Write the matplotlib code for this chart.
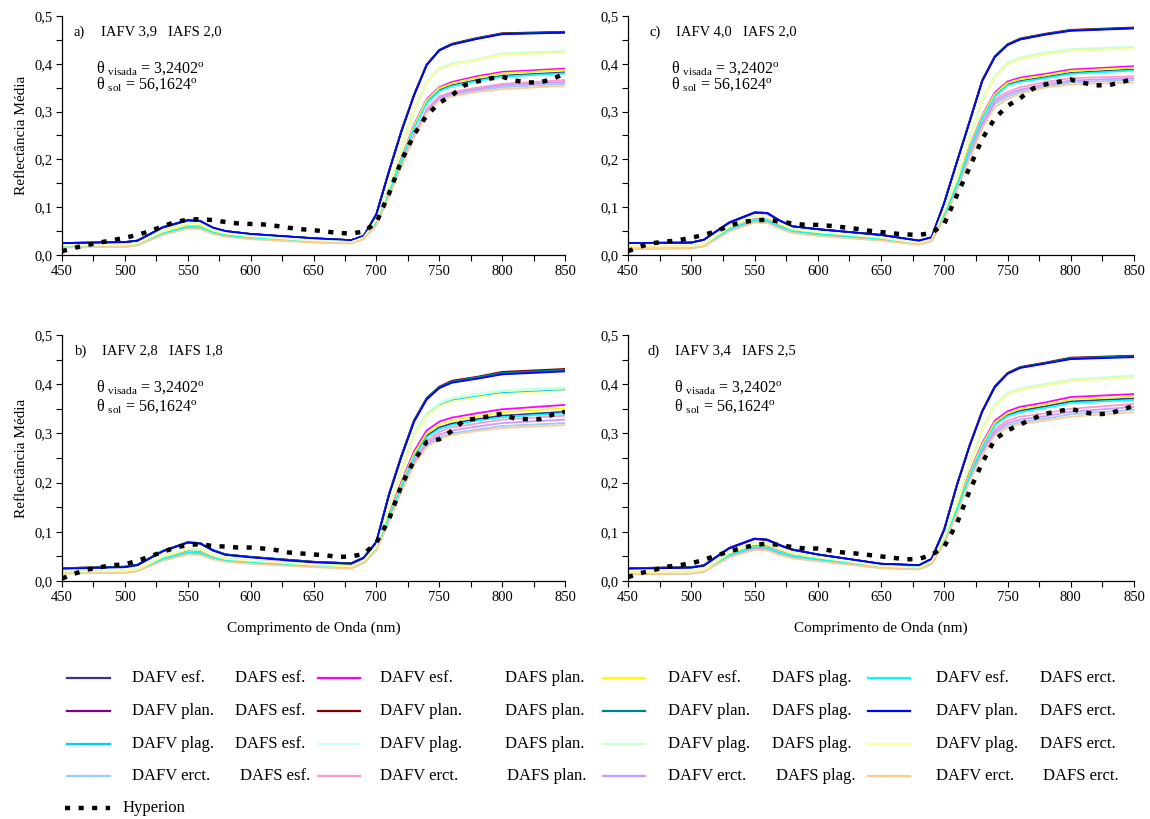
import matplotlib
matplotlib.use("Agg")
import matplotlib.pyplot as plt
from matplotlib.lines import Line2D
from matplotlib.ticker import MultipleLocator, FuncFormatter

plt.rcParams['font.family'] = ['Liberation Serif', 'DejaVu Serif']
plt.rcParams['mathtext.fontset'] = 'custom'
plt.rcParams['mathtext.rm'] = 'Liberation Serif'
plt.rcParams['mathtext.it'] = 'Liberation Serif:italic'

# ---------------------------------------------------------------- data
wavelength = [450, 500, 510, 530, 550, 560, 570, 580, 600, 650, 680, 690,
              700, 710, 720, 730, 740, 750, 760, 780, 800, 850]
hyperion_wavelength = [450, 460, 470, 480, 490, 500, 510, 520, 530, 540, 550,
                       560, 570, 580, 590, 600, 610, 620, 630, 640, 650, 660,
                       670, 680, 690, 700, 710, 720, 730, 740, 750, 760, 770,
                       780, 790, 800, 810, 820, 830, 840, 850]

dafv_types = ['esf.', 'plan.', 'plag.', 'erct.']
dafs_types = ['esf.', 'plan.', 'plag.', 'erct.']

# series order: DAFS type (outer) x DAFV type (inner)
series_colors = ['#333399', '#800080', '#00CCFF', '#99CCFF',
                 '#FF00FF', '#800000', '#CCFFFF', '#FF99CC',
                 '#FFFF00', '#008080', '#CCFFCC', '#CC99FF',
                 '#00FFFF', '#0000FF', '#FFFF99', '#FFCC99']

panel_tags = ['a)', 'b)', 'c)', 'd)']
iafv = ['IAFV 3,9', 'IAFV 2,8', 'IAFV 4,0', 'IAFV 3,4']
iafs = ['IAFS 2,0', 'IAFS 1,8', 'IAFS 2,0', 'IAFS 2,5']

refl_a = [
    [.019, .020, .023, .046, .060, .059, .048, .042, .037, .030, .028, .037, .070, .132, .199, .268, .320, .345, .355, .366, .375, .382],
    [.025, .027, .030, .057, .072, .071, .057, .050, .044, .035, .031, .040, .085, .175, .260, .335, .398, .428, .441, .453, .463, .466],
    [.020, .021, .024, .048, .064, .063, .051, .045, .039, .030, .027, .037, .074, .140, .224, .304, .361, .389, .399, .408, .420, .425],
    [.016, .017, .020, .043, .056, .055, .045, .039, .034, .027, .025, .034, .064, .123, .187, .248, .300, .326, .335, .344, .351, .358],
    [.019, .020, .023, .047, .062, .061, .050, .044, .039, .032, .030, .038, .072, .135, .203, .273, .326, .351, .362, .374, .383, .390],
    [.025, .027, .030, .058, .073, .071, .057, .050, .044, .035, .031, .040, .086, .176, .261, .336, .399, .429, .442, .454, .464, .467],
    [.021, .022, .025, .050, .066, .065, .053, .046, .040, .031, .028, .038, .076, .142, .226, .306, .363, .391, .401, .410, .422, .427],
    [.017, .018, .021, .044, .058, .057, .047, .041, .036, .028, .026, .035, .066, .125, .190, .252, .305, .332, .341, .350, .358, .366],
    [.019, .020, .023, .047, .061, .060, .049, .043, .038, .031, .029, .037, .071, .134, .201, .271, .324, .349, .359, .371, .380, .387],
    [.025, .027, .030, .058, .073, .071, .057, .050, .044, .035, .031, .040, .086, .175, .260, .335, .398, .429, .441, .453, .463, .466],
    [.021, .022, .025, .051, .067, .066, .054, .046, .040, .031, .028, .038, .075, .141, .225, .305, .362, .390, .400, .409, .421, .426],
    [.017, .018, .021, .043, .057, .056, .046, .040, .035, .028, .026, .035, .065, .124, .188, .250, .302, .329, .338, .347, .355, .362],
    [.018, .019, .022, .045, .059, .058, .047, .041, .036, .029, .027, .036, .069, .131, .198, .266, .318, .343, .353, .364, .373, .380],
    [.025, .027, .030, .058, .073, .071, .057, .050, .044, .035, .031, .040, .085, .174, .259, .334, .397, .428, .440, .452, .462, .465],
    [.020, .021, .024, .049, .065, .064, .052, .045, .039, .030, .027, .037, .074, .139, .223, .303, .360, .388, .398, .407, .419, .423],
    [.016, .017, .020, .042, .055, .054, .044, .038, .033, .026, .024, .033, .063, .121, .185, .246, .297, .323, .332, .341, .347, .354],
]

refl_b = [
    [.018, .020, .023, .045, .059, .058, .048, .042, .039, .033, .031, .041, .067, .130, .195, .255, .295, .312, .320, .329, .336, .344],
    [.026, .029, .033, .061, .078, .076, .062, .054, .049, .039, .036, .047, .079, .175, .254, .325, .370, .393, .404, .413, .422, .428],
    [.018, .020, .023, .048, .063, .062, .051, .045, .041, .033, .029, .041, .069, .147, .222, .296, .337, .357, .367, .375, .382, .388],
    [.016, .017, .020, .042, .055, .054, .045, .040, .036, .029, .026, .037, .063, .121, .184, .238, .275, .292, .300, .308, .315, .321],
    [.018, .020, .023, .046, .060, .059, .049, .044, .041, .037, .036, .044, .070, .135, .202, .264, .306, .324, .332, .341, .349, .358],
    [.026, .029, .033, .061, .079, .077, .063, .054, .049, .039, .036, .048, .080, .177, .256, .327, .372, .395, .407, .415, .425, .431],
    [.019, .021, .024, .050, .065, .064, .053, .046, .042, .034, .030, .042, .071, .150, .226, .301, .342, .362, .373, .381, .388, .394],
    [.016, .018, .021, .043, .056, .055, .046, .041, .038, .031, .028, .039, .065, .125, .190, .246, .284, .303, .312, .320, .328, .336],
    [.018, .020, .023, .046, .059, .058, .048, .043, .040, .035, .033, .042, .068, .132, .198, .259, .300, .318, .326, .335, .343, .351],
    [.026, .029, .033, .061, .079, .077, .063, .054, .049, .039, .036, .048, .080, .176, .255, .326, .371, .394, .405, .414, .423, .429],
    [.019, .021, .024, .050, .066, .065, .054, .046, .042, .034, .030, .042, .070, .149, .225, .299, .340, .360, .371, .379, .386, .392],
    [.016, .018, .021, .043, .056, .055, .046, .041, .037, .030, .027, .038, .064, .123, .187, .242, .279, .297, .306, .314, .321, .328],
    [.017, .019, .022, .045, .058, .057, .047, .042, .038, .032, .029, .040, .066, .129, .193, .253, .292, .309, .317, .326, .333, .341],
    [.025, .028, .032, .060, .078, .076, .062, .053, .048, .038, .035, .047, .079, .174, .253, .324, .369, .392, .403, .411, .420, .426],
    [.018, .020, .023, .049, .064, .063, .052, .045, .041, .033, .029, .041, .069, .146, .221, .295, .335, .355, .365, .373, .380, .386],
    [.015, .017, .020, .041, .054, .053, .044, .039, .035, .028, .025, .036, .062, .120, .182, .236, .272, .289, .297, .305, .311, .317],
]

refl_c = [
    [.016, .017, .021, .054, .073, .072, .060, .051, .045, .035, .025, .031, .084, .147, .222, .287, .334, .357, .364, .372, .381, .388],
    [.025, .026, .032, .067, .088, .087, .071, .060, .054, .042, .030, .037, .109, .195, .279, .364, .415, .440, .451, .462, .470, .475],
    [.017, .018, .022, .058, .078, .077, .064, .054, .048, .036, .025, .032, .093, .160, .243, .323, .373, .400, .411, .421, .428, .433],
    [.013, .014, .018, .050, .069, .068, .056, .047, .041, .031, .022, .029, .078, .136, .204, .268, .316, .331, .342, .353, .361, .366],
    [.016, .017, .021, .055, .075, .074, .061, .052, .046, .036, .026, .032, .086, .150, .226, .292, .340, .363, .371, .379, .388, .395],
    [.025, .026, .032, .068, .089, .088, .072, .060, .054, .042, .030, .037, .110, .196, .280, .366, .416, .441, .453, .463, .471, .476],
    [.018, .019, .023, .060, .081, .080, .066, .055, .049, .037, .026, .033, .095, .162, .246, .326, .376, .403, .414, .424, .431, .436],
    [.014, .015, .019, .052, .071, .070, .058, .049, .043, .033, .023, .030, .080, .140, .210, .276, .326, .341, .351, .362, .370, .374],
    [.016, .017, .021, .055, .074, .073, .060, .051, .045, .035, .025, .032, .085, .149, .224, .290, .337, .360, .368, .376, .385, .392],
    [.025, .026, .032, .068, .089, .088, .072, .060, .054, .042, .030, .037, .110, .195, .279, .365, .415, .440, .452, .462, .470, .475],
    [.018, .019, .023, .061, .082, .081, .067, .055, .049, .037, .026, .033, .094, .161, .245, .325, .375, .402, .413, .423, .430, .435],
    [.014, .015, .019, .051, .070, .069, .057, .048, .042, .032, .023, .030, .079, .138, .207, .272, .321, .336, .346, .357, .365, .370],
    [.015, .016, .020, .054, .073, .072, .059, .050, .044, .034, .024, .031, .083, .146, .221, .286, .332, .355, .362, .370, .379, .386],
    [.025, .026, .032, .068, .089, .088, .072, .060, .054, .042, .030, .037, .109, .194, .278, .364, .414, .439, .451, .461, .469, .474],
    [.017, .018, .022, .059, .079, .078, .065, .054, .048, .036, .025, .032, .093, .159, .242, .322, .372, .399, .410, .420, .427, .432],
    [.013, .014, .018, .049, .068, .067, .055, .046, .040, .030, .022, .029, .077, .134, .201, .264, .309, .326, .338, .350, .357, .361],
]

refl_d = [
    [.017, .018, .022, .053, .069, .068, .058, .051, .044, .030, .028, .038, .083, .147, .215, .274, .319, .337, .346, .355, .365, .371],
    [.026, .028, .032, .066, .085, .083, .072, .063, .054, .035, .032, .045, .105, .195, .275, .345, .395, .422, .434, .443, .452, .457],
    [.017, .018, .022, .056, .074, .073, .063, .056, .048, .030, .027, .039, .088, .158, .237, .307, .357, .379, .389, .398, .407, .415],
    [.014, .015, .019, .049, .064, .063, .054, .047, .041, .027, .024, .035, .078, .137, .205, .259, .300, .316, .323, .330, .339, .348],
    [.017, .018, .022, .054, .071, .070, .060, .053, .046, .032, .031, .039, .085, .150, .220, .280, .326, .345, .354, .363, .374, .380],
    [.026, .028, .032, .067, .086, .084, .073, .064, .054, .035, .032, .045, .106, .196, .276, .346, .396, .423, .435, .444, .454, .458],
    [.018, .019, .023, .058, .077, .076, .065, .057, .049, .031, .028, .040, .090, .160, .240, .310, .360, .382, .392, .401, .410, .418],
    [.015, .016, .020, .050, .066, .065, .056, .049, .043, .028, .025, .036, .080, .140, .210, .266, .309, .326, .334, .341, .350, .360],
    [.017, .018, .022, .054, .070, .069, .059, .052, .045, .031, .029, .038, .084, .148, .217, .277, .322, .341, .350, .359, .369, .375],
    [.026, .028, .032, .067, .086, .084, .073, .064, .054, .035, .032, .045, .105, .195, .275, .345, .395, .422, .434, .443, .453, .457],
    [.018, .019, .023, .059, .078, .077, .066, .057, .049, .031, .028, .040, .089, .159, .239, .309, .359, .381, .391, .400, .409, .417],
    [.015, .016, .020, .049, .065, .064, .055, .048, .042, .027, .024, .035, .079, .138, .207, .262, .304, .321, .328, .335, .344, .354],
    [.016, .017, .021, .053, .069, .068, .058, .051, .044, .030, .027, .037, .082, .146, .213, .272, .317, .335, .343, .352, .362, .368],
    [.025, .027, .031, .067, .086, .084, .073, .064, .054, .035, .032, .045, .104, .194, .274, .344, .394, .421, .433, .442, .451, .455],
    [.017, .018, .022, .057, .075, .074, .064, .056, .048, .030, .027, .039, .088, .157, .236, .306, .356, .378, .388, .397, .406, .414],
    [.014, .015, .019, .048, .063, .062, .053, .046, .040, .026, .023, .034, .077, .135, .202, .256, .296, .312, .319, .326, .334, .343],
]

hyperion_a = [.008, .015, .021, .026, .031, .036, .042, .050, .060, .069, .074,
              .075, .073, .069, .066, .065, .064, .061, .057, .054, .052, .049,
              .046, .045, .049, .068, .128, .198, .252, .292, .318, .334, .355,
              .363, .369, .373, .365, .361, .361, .368, .380]
hyperion_b = [.005, .015, .023, .028, .032, .034, .041, .050, .059, .068, .073,
              .075, .071, .070, .068, .068, .066, .063, .058, .056, .054, .052,
              .049, .050, .055, .078, .125, .195, .245, .283, .288, .305, .327,
              .330, .335, .340, .330, .329, .329, .338, .344]
hyperion_c = [.008, .018, .025, .028, .031, .036, .042, .050, .061, .069, .072,
              .074, .070, .066, .063, .063, .061, .058, .055, .051, .048, .045,
              .043, .042, .046, .065, .125, .183, .243, .286, .312, .328, .348,
              .357, .362, .367, .360, .355, .355, .362, .368]
hyperion_d = [.008, .016, .022, .029, .032, .036, .043, .052, .060, .067, .073,
              .076, .073, .069, .066, .066, .062, .058, .056, .053, .050, .047,
              .044, .045, .053, .070, .117, .183, .240, .288, .306, .318, .330,
              .340, .345, .350, .343, .339, .340, .348, .356]

panel_refl = [refl_a, refl_b, refl_c, refl_d]
panel_hyperion = [hyperion_a, hyperion_b, hyperion_c, hyperion_d]

# ---------------------------------------------------------------- layout
W, H = 1150, 819
fig = plt.figure(figsize=(W / 100, H / 100), dpi=100)


def fx(px):
    return px / W


def fy(py):
    return 1 - py / H


# (left, top, right, bottom) in pixels, order a, b, c, d
boxes = [(62, 16, 565, 255), (62, 335, 565, 581),
         (628, 16, 1134, 255), (628, 335, 1134, 581)]
tag_dx = [12, 13, 21, 20]
theta_dx = [34, 34, 43, 46]
theta_dy = [(52, 68), (52, 71), (52, 68), (52, 71)]

HYP_STYLE = dict(color='black', lw=3.2, linestyle=(0, (1.15, 1.9)),
                 dash_capstyle='butt', solid_capstyle='butt')

comma = FuncFormatter(lambda v, p: f'{v:.1f}'.replace('.', ','))

for k in range(4):
    l, t, r, b = boxes[k]
    ax = fig.add_axes([fx(l), fy(b), fx(r - l), (b - t) / H])
    for i in range(16):
        ax.plot(wavelength, panel_refl[k][i], color=series_colors[i], lw=1.3,
                solid_joinstyle='round', zorder=2)
    ax.plot(hyperion_wavelength, panel_hyperion[k], zorder=3, **HYP_STYLE)

    ax.set_xlim(450, 850)
    ax.set_ylim(0, 0.5)
    ax.xaxis.set_major_locator(MultipleLocator(50))
    ax.xaxis.set_minor_locator(MultipleLocator(25))
    ax.yaxis.set_major_locator(MultipleLocator(0.1))
    ax.yaxis.set_minor_locator(MultipleLocator(0.05))
    ax.yaxis.set_major_formatter(comma)
    for s in ('top', 'right'):
        ax.spines[s].set_visible(False)
    for s in ('left', 'bottom'):
        ax.spines[s].set_linewidth(0.9)
    ax.tick_params(which='both', direction='out', length=4, width=0.8,
                   labelsize=10.5, pad=3)
    ax.patch.set_alpha(0)

    if k < 2:
        ax.set_ylabel('Reflectância Média', fontsize=11, labelpad=4)
    if k in (1, 3):
        ax.set_xlabel('Comprimento de Onda (nm)', fontsize=11, labelpad=13)

    w, h = r - l, b - t
    ax.text(tag_dx[k] / w, 1 - 16 / h, panel_tags[k], transform=ax.transAxes,
            fontsize=10.5, va='center', ha='left')
    ax.text((tag_dx[k] + 27) / w, 1 - 16 / h, iafv[k], transform=ax.transAxes,
            fontsize=10.5, va='center', ha='left')
    ax.text((tag_dx[k] + 94) / w, 1 - 16 / h, iafs[k], transform=ax.transAxes,
            fontsize=10.5, va='center', ha='left')
    ax.text(theta_dx[k] / w, 1 - theta_dy[k][0] / h,
            r'θ $_{\mathregular{visada}}$ = 3,2402$^{\mathregular{o}}$',
            transform=ax.transAxes, fontsize=11.5, va='center', ha='left')
    ax.text(theta_dx[k] / w, 1 - theta_dy[k][1] / h,
            r'θ $_{\mathregular{sol}}$ = 56,1624$^{\mathregular{o}}$',
            transform=ax.transAxes, fontsize=11.5, va='center', ha='left')

# ---------------------------------------------------------------- legend
row_y = [678, 711, 744, 776]
handle_x = [(67, 110), (318, 360), (603, 645), (868, 910)]
dafv_x = [132, 380, 668, 936]
dafs_x = [235, 505, 772, 1040]
erct_shift = [5, 2, 4, 3]

for i in range(16):
    col, row = i // 4, i % 4
    y = row_y[row]
    x0, x1 = handle_x[col]
    fig.add_artist(Line2D([fx(x0), fx(x1)], [fy(y), fy(y)],
                          transform=fig.transFigure,
                          color=series_colors[i], lw=1.6))
    fig.text(fx(dafv_x[col]), fy(y), 'DAFV ' + dafv_types[row], fontsize=12,
             va='center', ha='left')
    sx = dafs_x[col] + (erct_shift[col] if row == 3 else 0)
    fig.text(fx(sx), fy(y), 'DAFS ' + dafs_types[col], fontsize=12,
             va='center', ha='left')

fig.add_artist(Line2D([fx(65), fx(110)], [fy(808), fy(808)],
                      transform=fig.transFigure, **HYP_STYLE))
fig.text(fx(123), fy(808), 'Hyperion', fontsize=12, va='center', ha='left')

fig.savefig('out.png', dpi=100, facecolor='white')
